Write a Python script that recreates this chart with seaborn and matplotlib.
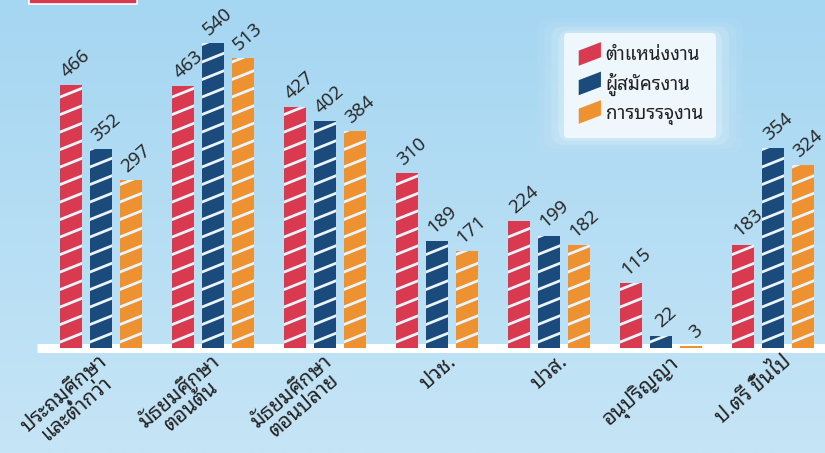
import matplotlib
matplotlib.use("Agg")
import numpy as np
import pandas as pd
import matplotlib.pyplot as plt
import seaborn as sns
from matplotlib.patches import Rectangle, Polygon, FancyBboxPatch
from matplotlib.legend_handler import HandlerPatch
from matplotlib.collections import LineCollection
from matplotlib.transforms import IdentityTransform, ScaledTranslation

# data
categories = ["ประถมศึกษา\nและต่ำกว่า", "มัธยมศึกษา\nตอนต้น", "มัธยมศึกษา\nตอนปลาย",
              "ปวช.", "ปวส.", "อนุปริญญา", "ป.ตรี ขึ้นไป"]
positions = [466, 463, 427, 310, 224, 115, 183]
applicants = [352, 540, 402, 189, 199, 22, 354]
placements = [297, 513, 384, 171, 182, 3, 324]
series_names = ["ตำแหน่งงาน", "ผู้สมัครงาน", "การบรรจุงาน"]
colors = ["#D93A50", "#1B4A7C", "#EE9231"]

thai_font = ["Noto Sans Thai Looped", "Noto Sans", "DejaVu Sans"]

df = pd.DataFrame({
    "cat": categories * 3,
    "series": [series_names[0]] * 7 + [series_names[1]] * 7 + [series_names[2]] * 7,
    "value": positions + applicants + placements,
})

sns.set_style("white")
plt.rcParams["font.family"] = thai_font

W, H = 825, 453
fig = plt.figure(figsize=(W / 100, H / 100), dpi=100)

# background gradient
bg = fig.add_axes([0, 0, 1, 1], zorder=-10)
grad = np.linspace(0, 1, 256).reshape(-1, 1)
top = np.array([165, 214, 242]) / 255
bot = np.array([198, 229, 246]) / 255
img = top + (bot - top) * grad[..., None]
bg.imshow(img, aspect="auto", extent=[0, 1, 0, 1])
bg.set_axis_off()

base_px = 348
scale = 0.565
ax = fig.add_axes([0, (H - base_px) / H, 1, base_px / H])
ax.patch.set_alpha(0)

sns.barplot(data=df, x="cat", y="value", hue="series", palette=colors,
            width=0.8, gap=0.27, saturation=1, linewidth=0, edgecolor="none",
            ax=ax, zorder=3)

ax.set_xlim(-101 / 112, (W - 101) / 112)
ax.set_ylim(0, base_px / scale)
ax.set_xlabel("")
ax.set_ylabel("")
ax.set_xticks([])
ax.set_yticks([])
for s in ax.spines.values():
    s.set_visible(False)

# white base line
ax.axhline(0, xmin=37 / W, xmax=1, color="white", lw=6.5, zorder=2,
           clip_on=False, solid_capstyle="butt")

# white diagonal stripes on each bar
fig.canvas.draw()
slope = 0.4
step = 17.5
for cont in ax.containers:
    for bar in cont:
        (x0, y0), (x1, y1) = ax.transData.transform(
            [(bar.get_x(), 0), (bar.get_x() + bar.get_width(), bar.get_height())])
        segs = []
        yy = y0 + 6
        while yy < y1 + 10:
            segs.append([(x0 - 2, yy - 2 * slope), (x1 + 2, yy + (x1 - x0 + 2) * slope)])
            yy += step
        lc = LineCollection(segs, colors="#EAF4FB", linewidths=2.0,
                            transform=IdentityTransform(), zorder=4)
        ax.add_collection(lc, autolim=False)
        lc.set_clip_path(bar)

# value labels
for cont in ax.containers:
    anns = ax.bar_label(cont, padding=4, rotation=41, fontsize=13.5,
                        color="#2a2a2a", family=thai_font)
    for a in anns:
        a.xyann = (3.5, 3)

# category labels (plain rotated labels, right/top aligned)
off = ScaledTranslation(23 / 100, -3 / 100, fig.dpi_scale_trans)
for i, lab in enumerate(categories):
    ax.text(i, 0, lab, transform=ax.transData + off, rotation=41,
            ha="right", va="top", multialignment="center", fontsize=15,
            color="#222222", linespacing=0.88, clip_on=False)

# legend with slanted swatches
class HandlerSlant(HandlerPatch):
    def create_artists(self, legend, orig_handle, xdescent, ydescent,
                       width, height, fontsize, trans):
        w, h = 16, 17
        x0 = -xdescent + width - w
        y0 = -ydescent + height / 2 - h / 2
        p = Polygon([(x0, y0), (x0 + w, y0 + h * 0.36), (x0 + w, y0 + h),
                     (x0, y0 + h * 0.64)], closed=True,
                    facecolor=orig_handle.get_facecolor(), edgecolor="none",
                    transform=trans)
        return [p]

handles, labels = ax.get_legend_handles_labels()
if ax.get_legend() is not None:
    ax.get_legend().remove()
leg = ax.legend(handles, labels, handler_map={Rectangle: HandlerSlant()},
                loc="upper left", bbox_to_anchor=(555 / W, 1 - 24 / H),
                bbox_transform=fig.transFigure, fontsize=13.5, frameon=True,
                handlelength=1.25, handletextpad=0.25, labelspacing=0.45,
                borderpad=0.7, fancybox=True)
leg.set_zorder(6)
frame = leg.get_frame()
frame.set_facecolor("white")
frame.set_alpha(0.7)
frame.set_edgecolor("none")
for t in leg.get_texts():
    t.set_color("#222222")

# soft glow around the legend
fig.canvas.draw()
bb = leg.get_window_extent()
for k, a in enumerate([0.2, 0.13, 0.08, 0.05]):
    padx = 6 + 7 * k
    pady = 3 + 4 * k
    g = FancyBboxPatch((bb.x0 - padx, bb.y0 - pady), bb.width + 2 * padx,
                       bb.height + 2 * pady, boxstyle="round,pad=0,rounding_size=12",
                       transform=IdentityTransform(), facecolor="white",
                       edgecolor="none", alpha=a, zorder=5)
    ax.add_artist(g)

# red tab at top left
fig.add_artist(Rectangle((29 / W, (H - 4) / H), 108 / W, 6 / H,
                         transform=fig.transFigure, facecolor="#D93A50",
                         edgecolor="white", lw=1.2, clip_on=False))

fig.savefig("out.png", dpi=100)
